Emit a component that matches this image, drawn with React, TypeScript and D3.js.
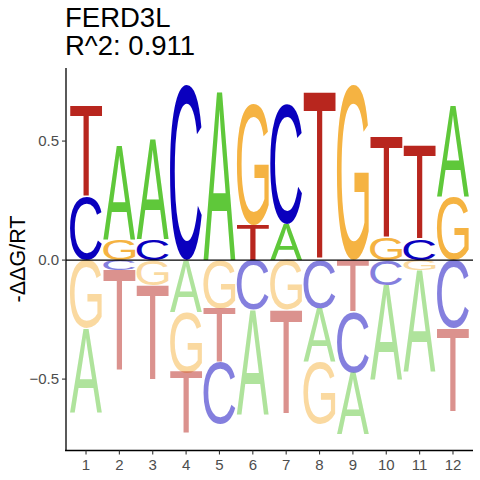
import React, { useMemo } from 'react';
import * as d3 from 'd3';

const title = 'FERD3L';
const subtitle = 'R^2: 0.911';
const positions = [1, 2, 3, 4, 5, 6, 7, 8, 9, 10, 11, 12];
const bases = ['A', 'C', 'G', 'T'];

// -ddG/RT per position, columns in the order of `bases`
const valuesA = [-0.35, 0.392, 0.42, -0.217, 0.703, -0.437, 0.151, -0.227, -0.259, -0.399, -0.427, 0.381];
const valuesC = [0.263, -0.042, 0.087, 0.735, -0.259, -0.21, 0.504, -0.203, -0.255, -0.105, 0.087, -0.287];
const valuesG = [-0.287, 0.087, -0.105, -0.255, -0.203, 0.508, -0.21, -0.259, 0.735, 0.091, -0.042, 0.263];
const valuesT = [0.381, -0.427, -0.399, -0.259, -0.227, 0.147, -0.437, 0.703, -0.217, 0.423, 0.393, -0.35];
const yTicks = [-0.5, 0, 0.5];

const baseColors: Record<string, string> = {
  A: '#5fc83a',
  C: '#0a00be',
  G: '#f5b342',
  T: '#b8261e',
};

const FONT = "'Liberation Sans', Arial, sans-serif";

const W = 480;
const H = 480;

// ink bounds of each glyph, measured on a canvas at 100px
function measureGlyphs() {
  const canvas = document.createElement('canvas');
  const ctx = canvas.getContext('2d')!;
  ctx.font = `100px ${FONT}`;
  const out: Record<string, { l: number; r: number; a: number; d: number }> = {};
  bases.forEach(b => {
    const m = ctx.measureText(b);
    out[b] = {
      l: m.actualBoundingBoxLeft,
      r: m.actualBoundingBoxRight,
      a: m.actualBoundingBoxAscent,
      d: m.actualBoundingBoxDescent,
    };
  });
  return out;
}

const App: React.FC = () => {
  const x = d3.scaleLinear().domain([0.4, 12.6]).range([66, 473]);
  const y = d3.scaleLinear().domain([-0.8, 0.807]).range([450.5, 68]);
  const step = x(2) - x(1);
  const letterW = step * 0.96;

  const glyphs = useMemo(() => measureGlyphs(), []);

  const letters = useMemo(() => {
    const cols = [valuesA, valuesC, valuesG, valuesT];
    const res: Array<{ key: string; base: string; pos: number; y0: number; y1: number; neg: boolean }> = [];
    positions.forEach((p, i) => {
      const vals = bases.map((b, j) => ({ base: b, v: cols[j][i] }));
      const pos = vals.filter(d => d.v > 0).sort((a, b) => a.v - b.v);
      const neg = vals.filter(d => d.v < 0).sort((a, b) => b.v - a.v);
      let acc = 0;
      pos.forEach(d => {
        res.push({ key: `p${p}${d.base}`, base: d.base, pos: p, y0: acc, y1: acc + d.v, neg: false });
        acc += d.v;
      });
      acc = 0;
      neg.forEach(d => {
        res.push({ key: `n${p}${d.base}`, base: d.base, pos: p, y0: acc + d.v, y1: acc, neg: true });
        acc += d.v;
      });
    });
    return res;
  }, []);

  return (
    <svg width={W} height={H} style={{ position: 'absolute', left: 0, top: 0 }}>
      <rect width={W} height={H} fill="#fff" />
      <text x={65} y={27} fontFamily={FONT} fontSize={27.5} fill="#000">{title}</text>
      <text x={65} y={55} fontFamily={FONT} fontSize={27.5} fill="#000">{subtitle}</text>

      {letters.map(d => {
        const g = glyphs[d.base];
        const x0 = x(d.pos) - letterW / 2;
        const top = y(d.y1);
        const h = y(d.y0) - top;
        const sx = letterW / (g.l + g.r);
        const sy = h / (g.a + g.d);
        return (
          <text
            key={d.key}
            transform={`translate(${x0},${top}) scale(${sx},${sy}) translate(${g.l},${g.a})`}
            fontFamily={FONT}
            fontSize={100}
            fill={baseColors[d.base]}
            fillOpacity={d.neg ? 0.5 : 1}
          >
            {d.base}
          </text>
        );
      })}

      <line x1={66} x2={473} y1={y(0)} y2={y(0)} stroke="#000" strokeWidth={1.1} />

      {/* y axis */}
      <line x1={66} x2={66} y1={68} y2={451} stroke="#000" strokeWidth={1.3} />
      {yTicks.map(t => (
        <g key={t} transform={`translate(0,${y(t)})`}>
          <line x1={62} x2={66} stroke="#333" strokeWidth={1.1} />
          <text x={59} dy="0.35em" textAnchor="end" fontFamily={FONT} fontSize={15} fill="#4d4d4d">
            {d3.format('.1f')(t)}
          </text>
        </g>
      ))}
      <text
        transform={`translate(24.5,259) rotate(-90)`}
        textAnchor="middle"
        fontFamily={FONT}
        fontSize={21.5}
        fill="#000"
      >
        -ΔΔG/RT
      </text>

      {/* x axis */}
      <line x1={65} x2={473} y1={450.5} y2={450.5} stroke="#000" strokeWidth={1.3} />
      {positions.map(p => (
        <g key={p} transform={`translate(${x(p)},450.5)`}>
          <line y1={0} y2={4} stroke="#333" strokeWidth={1.1} />
          <text y={19.5} textAnchor="middle" fontFamily={FONT} fontSize={15} fill="#4d4d4d">
            {p}
          </text>
        </g>
      ))}
    </svg>
  );
};

export default App;
